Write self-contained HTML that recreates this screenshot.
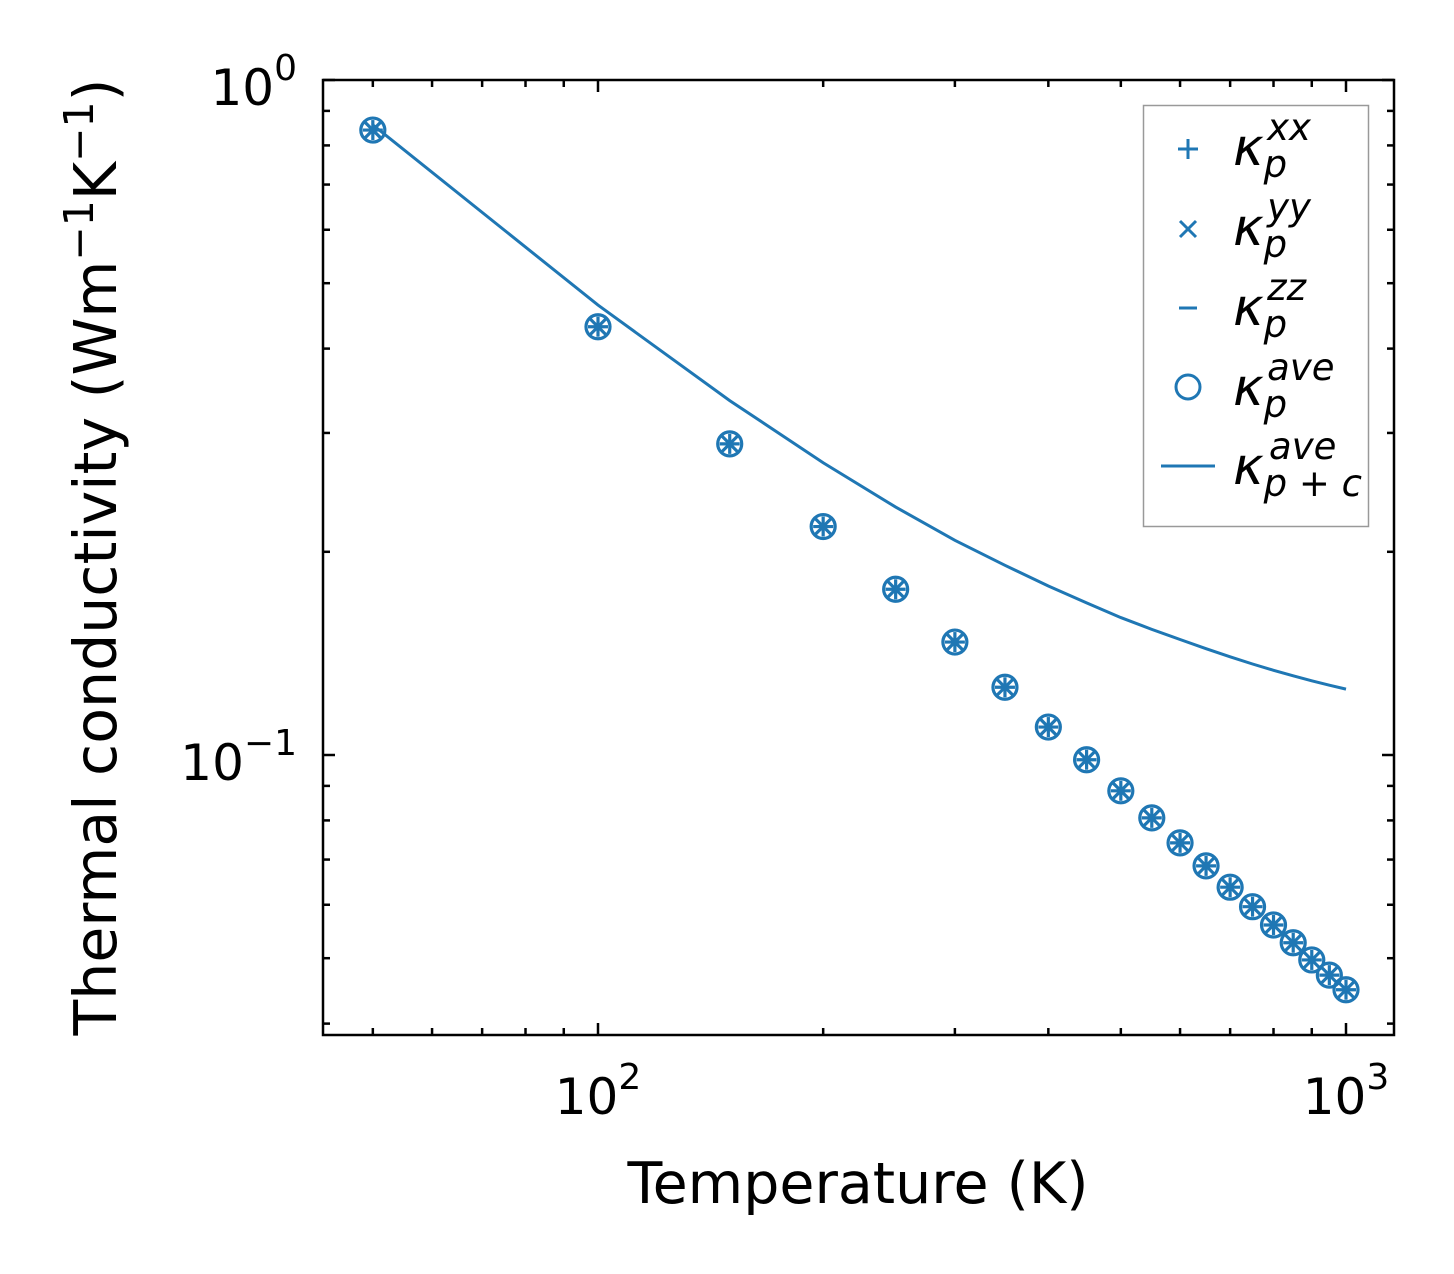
<!DOCTYPE html>
<html><head><meta charset="utf-8"><style>
body{margin:0;background:#fff}
svg{display:block;font-family:"DejaVu Sans","Liberation Sans",sans-serif}
</style></head><body>
<svg id="chart" width="1454" height="1274" viewBox="0 0 1454 1274"></svg>
<script>
const temps=[50,100,150,200,250,300,350,400,450,500,550,600,650,700,750,800,850,900,950,1000];
const kappaP=[0.843,0.431,0.289,0.218,0.176,0.147,0.126,0.110,0.0984,0.0885,0.0807,0.0741,0.0685,0.0637,0.0596,0.0560,0.0527,0.0497,0.0472,0.0449];
const kappaPC=[0.858,0.464,0.335,0.271,0.233,0.208,0.191,0.178,0.168,0.1598,0.1535,0.1483,0.1437,0.1398,0.1364,0.1335,0.1310,0.1288,0.1269,0.1252];
const xMajor=[100,1000];
const xMajorLabels=["2","3"];
const yMajor=[0.1,1];
const yMajorLabels=["−1","0"];

const NS="http://www.w3.org/2000/svg";
const svg=document.getElementById('chart');
const L=323,R=1394,T=80,B=1035;
const C='#1f77b4';
function X(v){return 598+748*(Math.log10(v)-2);}
function Y(v){return 80-675*Math.log10(v);}
function el(tag,attrs,parent){const e=document.createElementNS(NS,tag);for(const k in attrs)e.setAttribute(k,attrs[k]);(parent||svg).appendChild(e);return e;}

const ticks=el('g',{});


for(let d=1;d<=3;d++){for(let m=1;m<10;m++){const v=m*Math.pow(10,d);const x=X(v);if(x<L||x>R)continue;const len=m===1?12:7;
el('line',{x1:x,x2:x,y1:B,y2:B-len,stroke:'#000','stroke-width':2.5},ticks);
el('line',{x1:x,x2:x,y1:T,y2:T+len,stroke:'#000','stroke-width':2.5},ticks);}}
for(let d=-2;d<=0;d++){for(let m=1;m<10;m++){const v=m*Math.pow(10,d);const y=Y(v);if(y<T-0.5||y>B)continue;const len=m===1?12:7;
el('line',{x1:L,x2:L+len,y1:y,y2:y,stroke:'#000','stroke-width':2.5},ticks);
el('line',{x1:R,x2:R-len,y1:y,y2:y,stroke:'#000','stroke-width':2.5},ticks);}}

xMajor.forEach((v,i)=>{const t=el('text',{x:X(v),y:1114,'font-size':50,'text-anchor':'middle'});


t.innerHTML='10<tspan dy="-25" font-size="36">'+xMajorLabels[i]+'</tspan>';});
yMajor.forEach((v,i)=>{const t=el('text',{x:297,y:Y(v)+25,'font-size':50,'text-anchor':'end'});


t.innerHTML='10<tspan dy="-25" font-size="36">'+yMajorLabels[i]+'</tspan>';});

const lp=el('polyline',{points:temps.map((t,i)=>X(t)+','+Y(kappaPC[i])).join(' '),fill:'none',stroke:C,'stroke-width':3});



temps.forEach((t,i)=>{const x=X(t),y=Y(kappaP[i]);
const g=el('g',{stroke:C,fill:'none','stroke-width':3.2});


el('line',{x1:x-10,x2:x+10,y1:y,y2:y},g);
el('line',{x1:x,x2:x,y1:y-10,y2:y+10},g);
el('line',{x1:x-8,x2:x+8,y1:y-8,y2:y+8},g);
el('line',{x1:x-8,x2:x+8,y1:y+8,y2:y-8},g);
el('circle',{cx:x,cy:y,r:12},g);});

const fr=el('rect',{x:L,y:T,width:R-L,height:B-T,fill:'none',stroke:'#000','stroke-width':2.5});


</script>
<svg style="position:absolute;left:0;top:0" width="1454" height="1274" font-family="DejaVu Sans, Liberation Sans, sans-serif">
<text x="858" y="1203" font-size="57" text-anchor="middle">Temperature (K)</text>
<text transform="translate(116,557) rotate(-90)" font-size="58.5" text-anchor="middle">Thermal conductivity (Wm<tspan dy="-23" font-size="41">−1</tspan><tspan dy="23">K</tspan><tspan dy="-23" font-size="41">−1</tspan><tspan dy="23">)</tspan></text>
<g>
<rect x="1143.5" y="105.5" width="225" height="421" fill="#fff" fill-opacity="0.8" stroke="#999" stroke-width="1.5"/>
<g stroke="#1f77b4" stroke-width="3" fill="none">
<line x1="1178" x2="1198" y1="149" y2="149"/><line x1="1188" x2="1188" y1="139" y2="159"/>
<line x1="1180" x2="1196" y1="221" y2="237"/><line x1="1180" x2="1196" y1="237" y2="221"/>
<line x1="1179" x2="1197" y1="308" y2="308"/>
<circle cx="1188" cy="387" r="12"/>
<line x1="1161" x2="1215" y1="466" y2="466"/>
</g>
<g font-size="52" font-style="italic">
<text x="1233" y="165">κ<tspan font-size="37" dy="12">p</tspan><tspan font-size="37" dx="-20" dy="-37">xx</tspan></text>
<text x="1233" y="245">κ<tspan font-size="37" dy="12">p</tspan><tspan font-size="37" dx="-20" dy="-37">yy</tspan></text>
<text x="1233" y="325">κ<tspan font-size="37" dy="12">p</tspan><tspan font-size="37" dx="-20" dy="-37">zz</tspan></text>
<text x="1233" y="405">κ<tspan font-size="37" dy="12">p</tspan><tspan font-size="37" dx="-20" dy="-37">ave</tspan></text>
<text x="1233" y="484">κ<tspan font-size="37" dy="12">p + c</tspan><tspan font-size="37" dx="-93" dy="-37">ave</tspan></text>
</g>
</g>
</svg>
</body></html>
